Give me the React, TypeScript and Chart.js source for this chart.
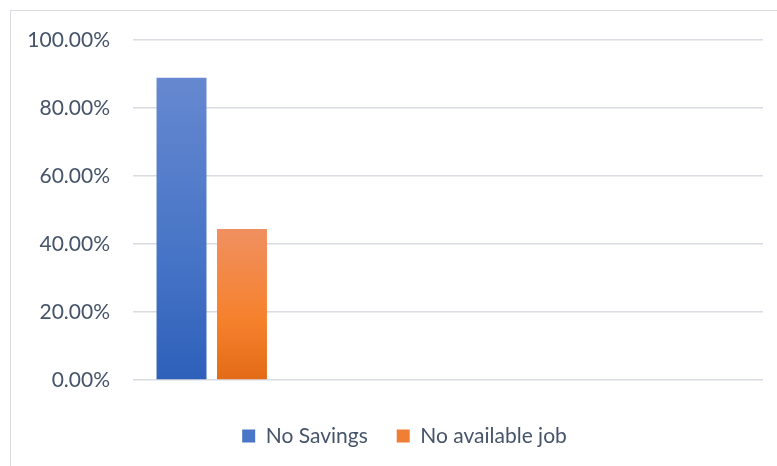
import React, { useEffect, useRef } from "react";
import { Chart, registerables } from "chart.js";

Chart.register(...registerables);

const categories = ["", "", "", ""];
const seriesNames = ["No Savings", "No available job"];
const noSavings = [0.8889, null, null, null];
const noAvailableJob = [0.4444, null, null, null];
const yTicks = [0, 0.2, 0.4, 0.6, 0.8, 1.0];

const blueStops = ["#6688d0", "#4674c6", "#2e60ba"];
const orangeStops = ["#f09060", "#f6812d", "#e36b18"];
const legendColors = ["#4a76c8", "#f07f35"];

const TEXT = "#46546a";
const FONT = "Lato, 'Noto Sans', sans-serif";
const LEGEND_SHIFT = 23;

function gradientFill(stops: string[], solid: string) {
  return (ctx: any) => {
    const chart = ctx.chart;
    if (ctx.type !== "data" || !chart.chartArea) return solid;
    const v = ctx.raw;
    if (v == null) return solid;
    const y = chart.scales.y;
    const top = y.getPixelForValue(v);
    const bottom = y.getPixelForValue(0);
    const g = chart.ctx.createLinearGradient(0, top, 0, bottom);
    g.addColorStop(0, stops[0]);
    g.addColorStop(0.6, stops[1]);
    g.addColorStop(1, stops[2]);
    return g;
  };
}

const legendShift = {
  id: "legendShift",
  beforeDraw(chart: any) {
    const lg = chart.legend;
    if (lg && !lg._shifted) {
      lg.left += LEGEND_SHIFT;
      lg.right += LEGEND_SHIFT;
      lg._shifted = true;
    }
  },
};

export default function App() {
  const ref = useRef<HTMLCanvasElement | null>(null);
  useEffect(() => {
    if (!ref.current) return;
    const chart = new Chart(ref.current, {
      type: "bar",
      data: {
        labels: categories,
        datasets: [
          {
            label: seriesNames[0],
            data: noSavings,
            backgroundColor: gradientFill(blueStops, legendColors[0]),
            borderWidth: 0,
            categoryPercentage: 0.768,
            barPercentage: 0.826,
          },
          {
            label: seriesNames[1],
            data: noAvailableJob,
            backgroundColor: gradientFill(orangeStops, legendColors[1]),
            borderWidth: 0,
            categoryPercentage: 0.768,
            barPercentage: 0.826,
          },
        ],
      },
      plugins: [legendShift],
      options: {
        animation: false,
        responsive: false,
        devicePixelRatio: 1,
        layout: { padding: { left: 0, right: 14, top: 40, bottom: 9.5 } },
        plugins: {
          tooltip: { enabled: false },
          legend: {
            position: "bottom",
            labels: {
              boxWidth: 13,
              boxHeight: 13,
              padding: 29,
              color: TEXT,
              font: { family: FONT, size: 21 },
              generateLabels: (c: any) =>
                Chart.defaults.plugins.legend.labels
                  .generateLabels(c)
                  .map((item: any, i: number) => ({
                    ...item,
                    fillStyle: legendColors[i],
                    strokeStyle: legendColors[i],
                    lineWidth: 0,
                  })),
            },
          },
        },
        scales: {
          x: {
            grid: { display: false },
            border: { display: false },
            ticks: { display: false },
            afterFit: (s: any) => {
              s.height = 16.5;
            },
          },
          y: {
            min: 0,
            max: 1,
            afterBuildTicks: (s: any) => {
              s.ticks = yTicks.map((v) => ({ value: v }));
            },
            afterFit: (s: any) => {
              s.width = 133;
            },
            border: { display: false },
            grid: { color: "#d9dce1", lineWidth: 1.5, drawTicks: false },
            ticks: {
              padding: 23,
              color: TEXT,
              font: { family: FONT, size: 21 },
              callback: (v: any) => (Number(v) * 100).toFixed(2) + "%",
            },
          },
        },
      },
    });
    return () => chart.destroy();
  }, []);

  return (
    <div
      style={{
        position: "fixed",
        left: 0,
        top: 0,
        width: 777,
        height: 466,
        overflow: "hidden",
        background: "#ffffff",
      }}
    >
      <div
        style={{
          position: "absolute",
          left: 10,
          top: 10,
          width: 800,
          height: 500,
          border: "1px solid #d9dde3",
          boxSizing: "border-box",
        }}
      />
      <canvas
        ref={ref}
        width={777}
        height={466}
        style={{ position: "absolute", left: 0, top: 0, width: 777, height: 466 }}
      />
    </div>
  );
}
